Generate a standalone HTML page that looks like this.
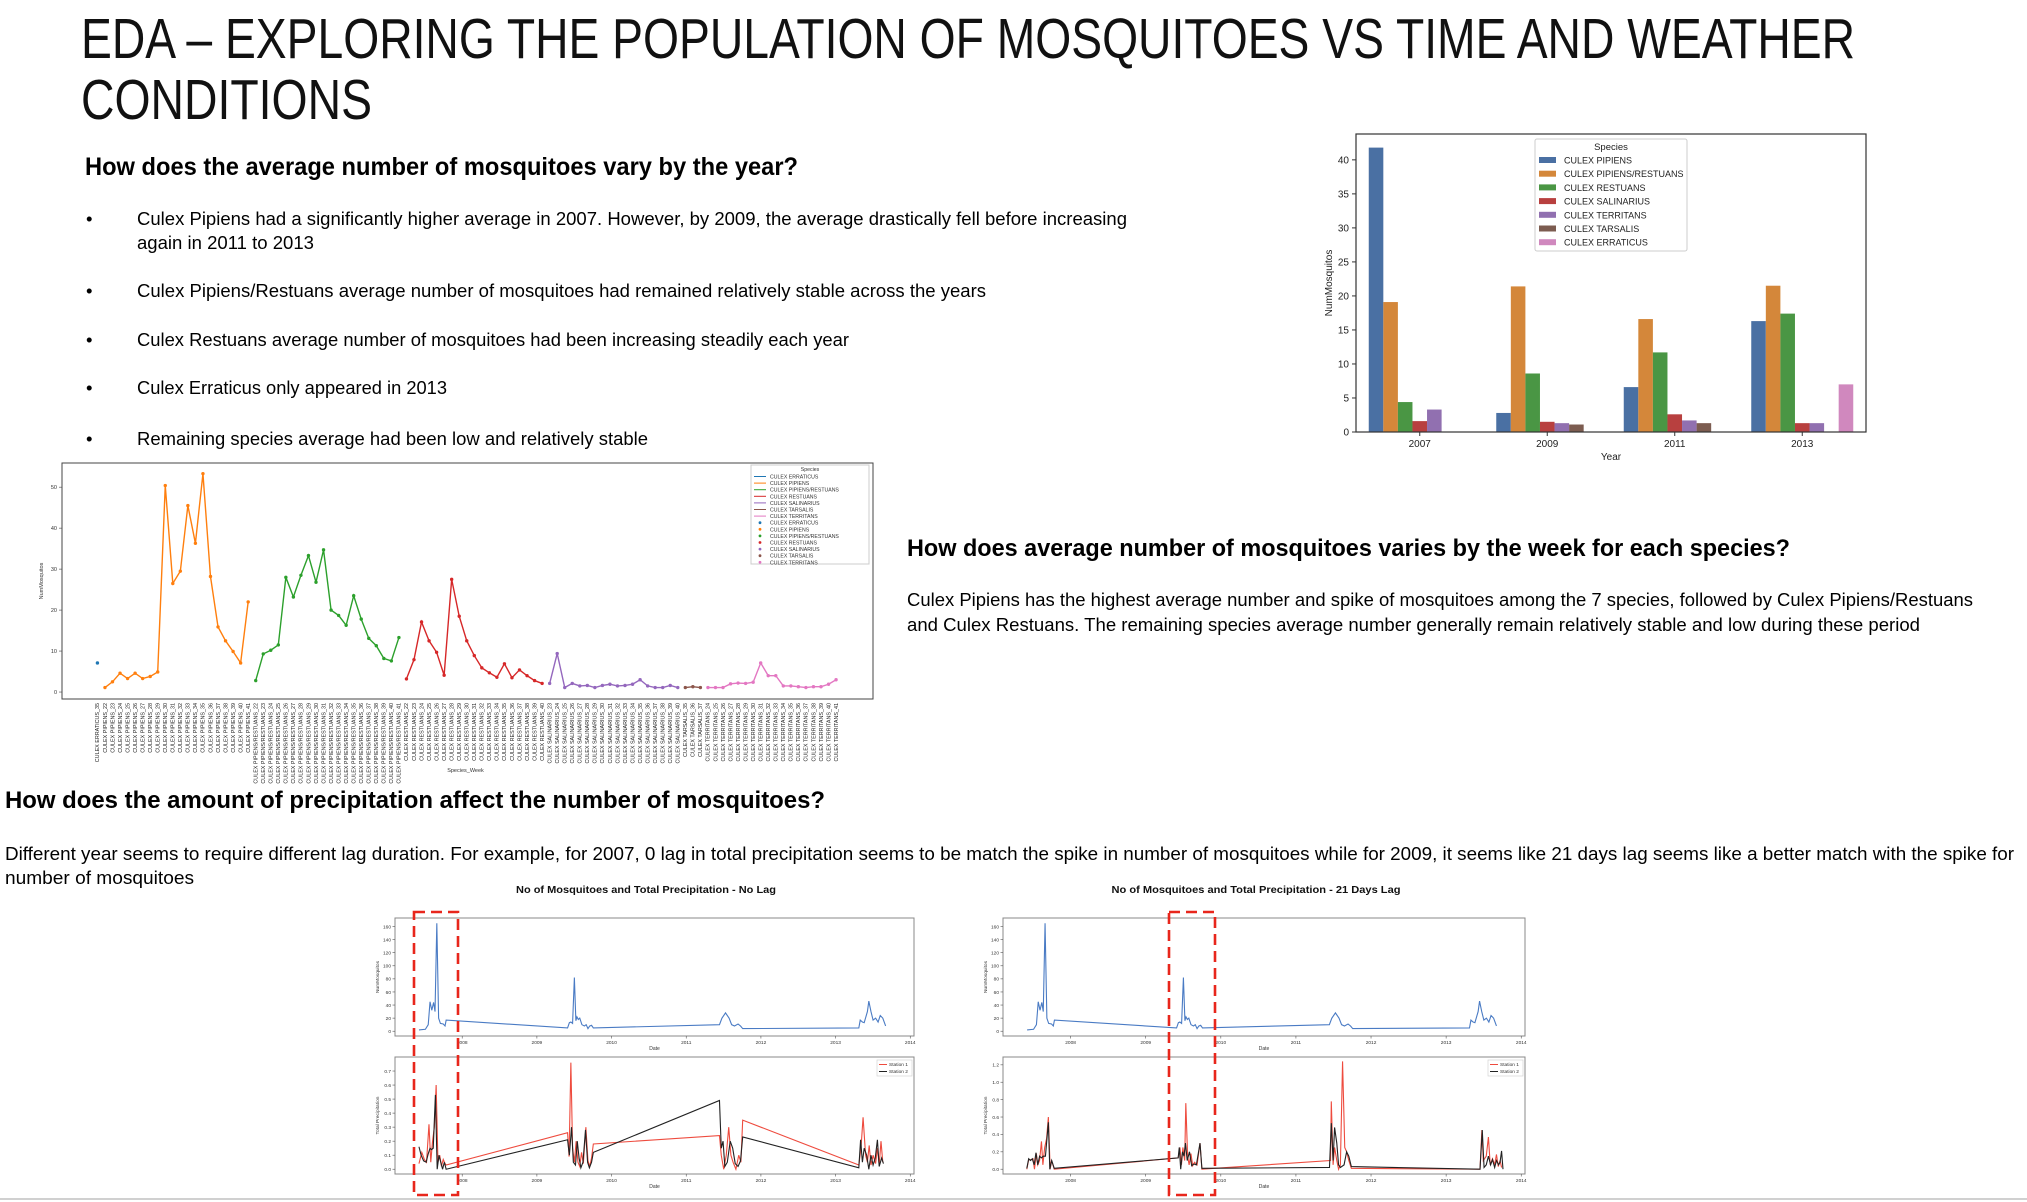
<!DOCTYPE html>
<html><head><meta charset="utf-8">
<style>
html,body{margin:0;padding:0;background:#fff;}
svg{display:block;font-family:"Liberation Sans",sans-serif;}
</style></head>
<body>
<svg id="root" width="2027" height="1202" viewBox="0 0 2027 1202" xmlns="http://www.w3.org/2000/svg">
<rect x="0" y="0" width="2027" height="1202" fill="#fff"/>
<text x="81" y="58" font-size="57" textLength="1774" lengthAdjust="spacingAndGlyphs" fill="#111">EDA – EXPLORING THE POPULATION OF MOSQUITOES VS TIME AND WEATHER</text>
<text x="81" y="119" font-size="57" textLength="291" lengthAdjust="spacingAndGlyphs" fill="#111">CONDITIONS</text>
<text x="85" y="175" font-size="25" font-weight="bold" textLength="713" lengthAdjust="spacingAndGlyphs">How does the average number of mosquitoes vary by the year?</text>
<g font-size="18.5">
<text x="86" y="225">•</text>
<text x="137" y="225" textLength="990" lengthAdjust="spacingAndGlyphs">Culex Pipiens had a significantly higher average in 2007. However, by 2009, the average drastically fell before increasing</text>
<text x="137" y="249" textLength="177" lengthAdjust="spacingAndGlyphs">again in 2011 to 2013</text>
<text x="86" y="297">•</text>
<text x="137" y="297" textLength="849" lengthAdjust="spacingAndGlyphs">Culex Pipiens/Restuans average number of mosquitoes had remained relatively stable across the years</text>
<text x="86" y="346">•</text>
<text x="137" y="346" textLength="712" lengthAdjust="spacingAndGlyphs">Culex Restuans average number of mosquitoes had been increasing steadily each year</text>
<text x="86" y="394">•</text>
<text x="137" y="394" textLength="310" lengthAdjust="spacingAndGlyphs">Culex Erraticus only appeared in 2013</text>
<text x="86" y="445">•</text>
<text x="137" y="445" textLength="511" lengthAdjust="spacingAndGlyphs">Remaining species average had been low and relatively stable</text>
</g>
<text x="907" y="556" font-size="24" font-weight="bold" textLength="883" lengthAdjust="spacingAndGlyphs">How does average number of mosquitoes varies by the week for each species?</text>
<text x="907" y="606" font-size="18.5" textLength="1066" lengthAdjust="spacingAndGlyphs">Culex Pipiens has the highest average number and spike of mosquitoes among the 7 species, followed by Culex Pipiens/Restuans</text>
<text x="907" y="631" font-size="18.5" textLength="1013" lengthAdjust="spacingAndGlyphs">and Culex Restuans. The remaining species average number generally remain relatively stable and low during these period</text>
<text x="5" y="808" font-size="24" font-weight="bold" textLength="820" lengthAdjust="spacingAndGlyphs">How does the amount of precipitation affect the number of mosquitoes?</text>
<text x="5" y="860" font-size="18.5" textLength="2009" lengthAdjust="spacingAndGlyphs">Different year seems to require different lag duration. For example, for 2007, 0 lag in total precipitation seems to be match the spike in number of mosquitoes while for 2009, it seems like 21 days lag seems like a better match with the spike for</text>
<text x="5" y="884" font-size="18.5" textLength="189" lengthAdjust="spacingAndGlyphs">number of mosquitoes</text>
<rect x="0" y="1198" width="2027" height="2" fill="#d0d0d0"/>
</svg>
<script>
// ---------- bar chart data ----------
const barYears = ['2007','2009','2011','2013'];
const barSpecies = ['CULEX PIPIENS','CULEX PIPIENS/RESTUANS','CULEX RESTUANS','CULEX SALINARIUS','CULEX TERRITANS','CULEX TARSALIS','CULEX ERRATICUS'];
const barPipiens = [41.8, 2.8, 6.6, 16.3];
const barPipRes = [19.1, 21.4, 16.6, 21.5];
const barRestuans = [4.4, 8.6, 11.7, 17.4];
const barSalinarius = [1.6, 1.5, 2.6, 1.3];
const barTerritans = [3.3, 1.3, 1.7, 1.3];
const barTarsalis = [null, 1.1, 1.3, null];
const barErraticus = [null, null, null, 7.0];
const barYTicks = [0,5,10,15,20,25,30,35,40];

// ---------- weekly line chart data ----------
const wkErraticus = [7.1];
const wkPipiens = [1.1,2.5,4.6,3.3,4.6,3.3,3.8,4.9,50.4,26.5,29.5,45.5,36.3,53.3,28.2,15.9,12.5,9.9,7.1,22.0];
const wkPipRes = [2.8,9.3,10.2,11.5,28.0,23.2,28.5,33.3,26.8,34.7,20.0,18.7,16.3,23.5,17.8,13.1,11.3,8.2,7.6,13.3];
const wkRestuans = [3.2,7.9,17.1,12.5,9.7,4.1,27.5,18.5,12.5,8.9,5.9,4.7,3.6,6.9,3.5,5.4,4.0,2.8,2.1];
const wkSalinarius = [2.1,9.4,1.1,2.1,1.5,1.6,1.1,1.6,1.9,1.5,1.6,1.9,3.0,1.5,1.1,1.1,1.6,1.1];
const wkTarsalis = [1.1,1.3,1.1];
const wkTerritans = [1.1,1.1,1.1,2.0,2.2,2.1,2.4,7.1,4.0,4.0,1.5,1.5,1.3,1.1,1.3,1.3,1.9,3.0];
const wkStartWeeks = [35,22,22,22,23,35,24];
const wkNames = ['CULEX ERRATICUS','CULEX PIPIENS','CULEX PIPIENS/RESTUANS','CULEX RESTUANS','CULEX SALINARIUS','CULEX TARSALIS','CULEX TERRITANS'];
const wkYTicks = [0,10,20,30,40,50];

// ---------- time series data ----------
const mosqDates = [2007.421,2007.507,2007.545,2007.569,2007.593,2007.617,2007.636,2007.660,2007.684,2007.708,2007.746,2007.770,2007.785,2009.411,2009.435,2009.455,2009.478,2009.502,2009.522,2009.536,2009.555,2009.574,2009.603,2009.636,2009.660,2009.684,2009.708,2009.732,2009.756,2011.445,2011.478,2011.526,2011.574,2011.608,2011.646,2011.694,2011.727,2011.756,2013.311,2013.330,2013.359,2013.383,2013.426,2013.445,2013.474,2013.502,2013.536,2013.569,2013.598,2013.632,2013.670];
const mosqCounts = [2,3,10,45,32,44,30,165,20,12,11,8,17,5,13,14,12,82,16,22,18,20,10,8,10,4,8,9,5,10,20,28,20,10,8,11,8,4,5,17,14,13,30,46,30,17,20,14,24,20,8];
const noLagS1Dates = [2007.421,2007.459,2007.493,2007.522,2007.555,2007.579,2007.603,2007.627,2007.651,2007.675,2007.699,2007.722,2007.746,2007.770,2007.785,2009.411,2009.431,2009.455,2009.478,2009.502,2009.526,2009.550,2009.574,2009.598,2009.622,2009.656,2009.684,2009.708,2009.732,2009.756,2011.445,2011.469,2011.502,2011.536,2011.569,2011.598,2011.627,2011.665,2011.703,2011.732,2011.756,2013.311,2013.340,2013.368,2013.402,2013.426,2013.450,2013.474,2013.502,2013.536,2013.560,2013.584,2013.608,2013.632];
const noLagS1Precip = [0.04,0.12,0.07,0.05,0.32,0.05,0.2,0.3,0.6,0.05,0.1,0.02,0.07,0.04,0.03,0.26,0.09,0.76,0.15,0.05,0.2,0.05,0.02,0.12,0.04,0.3,0.06,0.02,0.08,0.18,0.24,0.1,0.0,0.1,0.3,0.1,0.05,0.0,0.1,0.05,0.35,0.03,0.15,0.37,0.1,0.05,0.17,0.03,0.1,0.04,0.15,0.03,0.2,0.05];
const noLagS2Dates = [2007.421,2007.450,2007.483,2007.517,2007.545,2007.569,2007.589,2007.612,2007.641,2007.665,2007.689,2007.713,2007.737,2007.761,2007.785,2009.411,2009.435,2009.464,2009.488,2009.517,2009.541,2009.565,2009.589,2009.617,2009.651,2009.679,2009.703,2009.732,2009.756,2011.445,2011.469,2011.493,2011.517,2011.550,2011.589,2011.622,2011.656,2011.694,2011.727,2011.756,2013.311,2013.335,2013.359,2013.383,2013.416,2013.445,2013.474,2013.502,2013.531,2013.560,2013.584,2013.617,2013.641];
const noLagS2Precip = [0.16,0.1,0.06,0.05,0.11,0.15,0.14,0.15,0.53,0.0,0.1,0.05,0.0,0.05,0.0,0.21,0.1,0.3,0.05,0.03,0.2,0.08,0.01,0.05,0.28,0.05,0.01,0.05,0.12,0.49,0.15,0.2,0.02,0.05,0.2,0.15,0.04,0.02,0.06,0.23,0.01,0.21,0.05,0.15,0.1,0.0,0.1,0.03,0.08,0.21,0.02,0.08,0.04];
const lagS1Dates = [2007.417,2007.442,2007.476,2007.500,2007.519,2007.544,2007.563,2007.587,2007.612,2007.631,2007.655,2007.680,2007.704,2007.728,2007.748,2007.782,2009.432,2009.456,2009.476,2009.495,2009.519,2009.534,2009.558,2009.578,2009.602,2009.626,2009.650,2009.684,2009.723,2009.748,2011.461,2011.471,2011.495,2011.515,2011.544,2011.568,2011.592,2011.621,2011.650,2011.675,2011.704,2011.738,2013.451,2013.476,2013.495,2013.534,2013.563,2013.587,2013.617,2013.646,2013.670,2013.694,2013.718,2013.738];
const lagS1Precip = [0.0,0.11,0.11,0.12,0.0,0.18,0.05,0.1,0.32,0.05,0.25,0.35,0.6,0.0,0.1,0.0,0.13,0.25,0.05,0.25,0.1,0.76,0.15,0.05,0.18,0.04,0.08,0.05,0.3,0.0,0.1,0.78,0.05,0.25,0.1,0.0,0.05,1.24,0.25,0.2,0.1,0.01,0.0,0.45,0.1,0.15,0.37,0.05,0.12,0.05,0.17,0.03,0.1,0.02];
const lagS2Dates = [2007.417,2007.442,2007.466,2007.490,2007.515,2007.539,2007.563,2007.587,2007.612,2007.636,2007.665,2007.704,2007.723,2007.748,2007.782,2009.432,2009.447,2009.466,2009.490,2009.510,2009.529,2009.553,2009.583,2009.612,2009.641,2009.675,2009.723,2009.748,2011.447,2011.471,2011.495,2011.515,2011.544,2011.568,2011.592,2011.641,2011.675,2011.704,2011.738,2013.451,2013.481,2013.505,2013.534,2013.563,2013.592,2013.617,2013.646,2013.670,2013.699,2013.718,2013.738,2013.757];
const lagS2Precip = [0.01,0.12,0.1,0.12,0.05,0.19,0.05,0.15,0.13,0.15,0.15,0.54,0.0,0.1,0.01,0.13,0.25,0.0,0.2,0.15,0.3,0.1,0.2,0.04,0.06,0.05,0.3,0.01,0.02,0.53,0.1,0.48,0.3,0.05,0.02,0.05,0.2,0.15,0.03,0.0,0.45,0.02,0.05,0.15,0.05,0.11,0.02,0.1,0.05,0.08,0.21,0.0];
const yearTicks = [2008,2009,2010,2011,2012,2013,2014];
const mosqTicks = [0,20,40,60,80,100,120,140,160];
const noLagPrecipTicks = [0.0,0.1,0.2,0.3,0.4,0.5,0.6,0.7];
const lagPrecipTicks = [0.0,0.2,0.4,0.6,0.8,1.0,1.2];

const NS = 'http://www.w3.org/2000/svg';
const root = document.getElementById('root');
function mk(tag, attrs, parent) {
  const e = document.createElementNS(NS, tag);
  for (const k in attrs) e.setAttribute(k, attrs[k]);
  (parent || root).appendChild(e);
  return e;
}
function txt(s, attrs, parent) {
  const e = mk('text', attrs, parent);
  e.textContent = s;
  return e;
}

// ================= BAR CHART =================
(function () {
  const L = 1356, R = 1866, T = 134, B = 432, YMAX = 43.8;
  const colors = ['#4a70a3','#d4873a','#4a9644','#b8403f','#9170b0','#7c5c50','#d088be'];
  const series = [barPipiens, barPipRes, barRestuans, barSalinarius, barTerritans, barTarsalis, barErraticus];
  const g = mk('g', {});
  
  
  const yS = v => B - v / YMAX * (B - T);
  const band = (R - L) / barYears.length;
  const bw = band * 0.8 / barSpecies.length;
  series.forEach((arr, j) => {
    arr.forEach((v, i) => {
      if (v === null) return;
      const x = L + (i + 0.5) * band - band * 0.4 + j * bw;
      const r = mk('rect', {x: x, y: yS(v), width: bw, height: yS(0) - yS(v), fill: colors[j]}, g);
      
      
    });
  });
  const frame = mk('rect', {x: L, y: T, width: R - L, height: B - T, fill: 'none', stroke: '#333', 'stroke-width': 1.2}, g);
  
  
  barYTicks.forEach(t => {
    const tk = mk('line', {x1: L - 4, x2: L, y1: yS(t), y2: yS(t), stroke: '#333'}, g);
    
    
    const lb = txt(String(t), {x: L - 7, y: yS(t) + 3.5, 'font-size': 10, 'text-anchor': 'end', fill: '#222'}, g);
    
    
  });
  barYears.forEach((yr, i) => {
    const cx = L + (i + 0.5) * band;
    const tk = mk('line', {x1: cx, x2: cx, y1: B, y2: B + 4, stroke: '#333'}, g);
    
    
    const lb = txt(yr, {x: cx, y: B + 15, 'font-size': 10, 'text-anchor': 'middle', fill: '#222'}, g);
    
    
  });
  const xl = txt('Year', {x: (L + R) / 2, y: B + 28, 'font-size': 10, 'text-anchor': 'middle', fill: '#222'}, g);
  
  
  const yl = txt('NumMosquitos', {x: 0, y: 0, 'font-size': 10, 'text-anchor': 'middle', fill: '#222', transform: 'translate(1332,' + ((T + B) / 2) + ') rotate(-90)'}, g);
  
  
  const lg = mk('g', {}, g);
  
  
  const lbx = mk('rect', {x: 1535, y: 139, width: 152, height: 112, fill: '#fff', stroke: '#ccc', rx: 2}, lg);
  
  
  const lt = txt('Species', {x: 1611, y: 150, 'font-size': 9.5, 'text-anchor': 'middle', fill: '#222'}, lg);
  
  
  barSpecies.forEach((s, j) => {
    const y = 160 + j * 13.7;
    const sw = mk('rect', {x: 1539, y: y - 3, width: 17, height: 6, fill: colors[j]}, lg);
    
    
    const tl = txt(s, {x: 1564, y: y + 3.5, 'font-size': 9, fill: '#222'}, lg);
    
    
  });
})();

// ================= WEEKLY LINE CHART =================
(function () {
  const L = 62, R = 873, T = 463, B = 699;
  const XMIN = -4.7, XMAX = 102.9, YMIN = -1.7, YMAX = 55.9;
  const colors = ['#1f77b4','#ff7f0e','#2ca02c','#d62728','#9467bd','#8c564b','#e377c2'];
  const groups = [wkErraticus, wkPipiens, wkPipRes, wkRestuans, wkSalinarius, wkTarsalis, wkTerritans];
  const xS = i => L + (i - XMIN) / (XMAX - XMIN) * (R - L);
  const yS = v => B - (v - YMIN) / (YMAX - YMIN) * (B - T);
  const g = mk('g', {});
  
  
  const frame = mk('rect', {x: L, y: T, width: R - L, height: B - T, fill: 'none', stroke: '#444', 'stroke-width': 1}, g);
  
  
  wkYTicks.forEach(t => {
    const lb = txt(String(t), {x: L - 5, y: yS(t) + 2, 'font-size': 5.5, 'text-anchor': 'end', fill: '#333'}, g);
    
    
    const tk = mk('line', {x1: L - 3, x2: L, y1: yS(t), y2: yS(t), stroke: '#444', 'stroke-width': 0.6}, g);
    
    
  });
  let idx = 0;
  groups.forEach((arr, gi) => {
    const pts = arr.map((v, k) => [xS(idx + k), yS(v)]);
    if (pts.length > 1) {
      const pl = mk('polyline', {points: pts.map(p => p.join(',')).join(' '), fill: 'none', stroke: colors[gi], 'stroke-width': 1.4}, g);
      
      
    }
    arr.forEach((v, k) => {
      const c = mk('circle', {cx: xS(idx + k), cy: yS(v), r: 1.7, fill: colors[gi]}, g);
      
      
      const lab = txt(wkNames[gi] + '_' + (wkStartWeeks[gi] + k), {x: 0, y: 0, 'font-size': 5.4, 'text-anchor': 'end', fill: '#222', transform: 'translate(' + (xS(idx + k) + 1.8) + ',' + (B + 4) + ') rotate(-90)'}, g);
      
      
    });
    idx += arr.length;
  });
  const xl = txt('Species_Week', {x: (L + R) / 2 - 2, y: 772, 'font-size': 5.5, 'text-anchor': 'middle', fill: '#333'}, g);
  
  
  const yl = txt('NumMosquitos', {x: 0, y: 0, 'font-size': 5.5, 'text-anchor': 'middle', fill: '#333', transform: 'translate(43,' + ((T + B) / 2) + ') rotate(-90)'}, g);
  
  
  const lg = mk('g', {}, g);
  
  
  const lb = mk('rect', {x: 751, y: 465, width: 118, height: 99, fill: '#fff', stroke: '#ccc'}, lg);
  
  
  const lt = txt('Species', {x: 810, y: 471, 'font-size': 5.2, 'text-anchor': 'middle', fill: '#333'}, lg);
  
  
  for (let k = 0; k < 14; k++) {
    const gi = k % 7;
    const y = 476.5 + k * 6.6;
    if (k < 7) {
      const ln = mk('line', {x1: 754, x2: 766, y1: y, y2: y, stroke: colors[gi], 'stroke-width': 1}, lg);
      
      
    } else {
      const dt = mk('circle', {cx: 760, cy: y, r: 1.4, fill: colors[gi]}, lg);
      
      
    }
    const tl = txt(wkNames[gi], {x: 770, y: y + 2, 'font-size': 5.2, fill: '#333'}, lg);
    
    
  }
})();

// ================= TIME SERIES PANELS =================
function timePanel(cfg) {
  const {L, R, T, B, ymin, ymax, ticks, fmt, parent, ylabel} = cfg;
  const XMIN = 2007.10, XMAX = 2014.05;
  const xS = d => L + (d - XMIN) / (XMAX - XMIN) * (R - L);
  const yS = v => B - (v - ymin) / (ymax - ymin) * (B - T);
  const g = mk('g', {}, parent);
  
  
  const fr = mk('rect', {x: L, y: T, width: R - L, height: B - T, fill: 'none', stroke: '#888', 'stroke-width': 1}, g);
  
  
  ticks.forEach(t => {
    const tk = mk('line', {x1: L - 2.5, x2: L, y1: yS(t), y2: yS(t), stroke: '#555', 'stroke-width': 0.6}, g);
    
    
    const lb = txt(fmt(t), {x: L - 4, y: yS(t) + 1.8, 'font-size': 4.8, 'text-anchor': 'end', fill: '#333'}, g);
    
    
  });
  yearTicks.forEach(yv => {
    const tk = mk('line', {x1: xS(yv), x2: xS(yv), y1: B, y2: B + 2.5, stroke: '#555', 'stroke-width': 0.6}, g);
    
    
    const lb = txt(String(yv), {x: xS(yv), y: B + 8, 'font-size': 4.8, 'text-anchor': 'middle', fill: '#333'}, g);
    
    
  });
  const xl = txt('Date', {x: (L + R) / 2, y: B + 14, 'font-size': 5, 'text-anchor': 'middle', fill: '#333'}, g);
  
  
  const yl = txt(ylabel, {x: 0, y: 0, 'font-size': 4.8, 'text-anchor': 'middle', fill: '#333', transform: 'translate(' + (L - 16) + ',' + ((T + B) / 2) + ') rotate(-90)'}, g);
  
  
  cfg.series.forEach(s => {
    const pts = s.d.map((d, i) => xS(d) + ',' + yS(s.v[i])).join(' ');
    const pl = mk('polyline', {points: pts, fill: 'none', stroke: s.c, 'stroke-width': 1.1}, g);
    
    
  });
  if (cfg.legend) {
    const lb = mk('rect', {x: R - 37, y: T + 3, width: 35, height: 16, fill: '#fff', stroke: '#ccc', 'stroke-width': 0.6}, g);
    
    
    cfg.series.forEach((s, k) => {
      const y = T + 7.5 + k * 7;
      const ln = mk('line', {x1: R - 35, x2: R - 27, y1: y, y2: y, stroke: s.c, 'stroke-width': 1}, g);
      
      
      const tl = txt(s.label, {x: R - 25, y: y + 1.7, 'font-size': 4.8, fill: '#333'}, g);
      
      
    });
  }
}
function precipFigure(opts) {
  const fig = mk('g', {});
  
  
  const tt = txt(opts.title, {x: opts.tx, y: 893, 'font-size': 10.5, 'font-weight': 'bold', 'text-anchor': 'middle', textLength: opts.tw, lengthAdjust: 'spacingAndGlyphs', fill: '#111'}, fig);
  
  
  timePanel({name: 'mosquito-panel', parent: fig, L: opts.L, R: opts.R, T: 918, B: 1036, ymin: -7.3, ymax: 173, ticks: mosqTicks, fmt: t => String(t), ylabel: 'NumMosquitos',
    series: [{d: mosqDates, v: mosqCounts, c: '#4a7bc4', name: 'mosquito-count-line'}]});
  timePanel({name: 'precipitation-panel', parent: fig, L: opts.L, R: opts.R, T: 1057, B: 1174, ymin: opts.pmin, ymax: opts.pmax, ticks: opts.pticks, fmt: t => t.toFixed(1), ylabel: 'Total Precipitation', legend: true,
    series: [{d: opts.s1d, v: opts.s1v, c: '#ee4b3e', name: 'station-1-line', label: 'Station 1'},
             {d: opts.s2d, v: opts.s2v, c: '#222', name: 'station-2-line', label: 'Station 2'}]});
  const box = mk('rect', {x: opts.bx, y: 912, width: opts.bw, height: 283, fill: 'none', stroke: '#e8261c', 'stroke-width': 2.6, 'stroke-dasharray': '11,6'}, fig);
  
  
}
precipFigure({name: 'no-lag-figure', title: 'No of Mosquitoes and Total Precipitation - No Lag', tx: 646, tw: 260, L: 395, R: 914,
  pmin: -0.034, pmax: 0.80, pticks: noLagPrecipTicks, s1d: noLagS1Dates, s1v: noLagS1Precip, s2d: noLagS2Dates, s2v: noLagS2Precip, bx: 414, bw: 44});
precipFigure({name: 'lag-21-figure', title: 'No of Mosquitoes and Total Precipitation - 21 Days Lag', tx: 1256, tw: 289, L: 1003, R: 1525,
  pmin: -0.055, pmax: 1.29, pticks: lagPrecipTicks, s1d: lagS1Dates, s1v: lagS1Precip, s2d: lagS2Dates, s2v: lagS2Precip, bx: 1169, bw: 46});
</script>
</body></html>
